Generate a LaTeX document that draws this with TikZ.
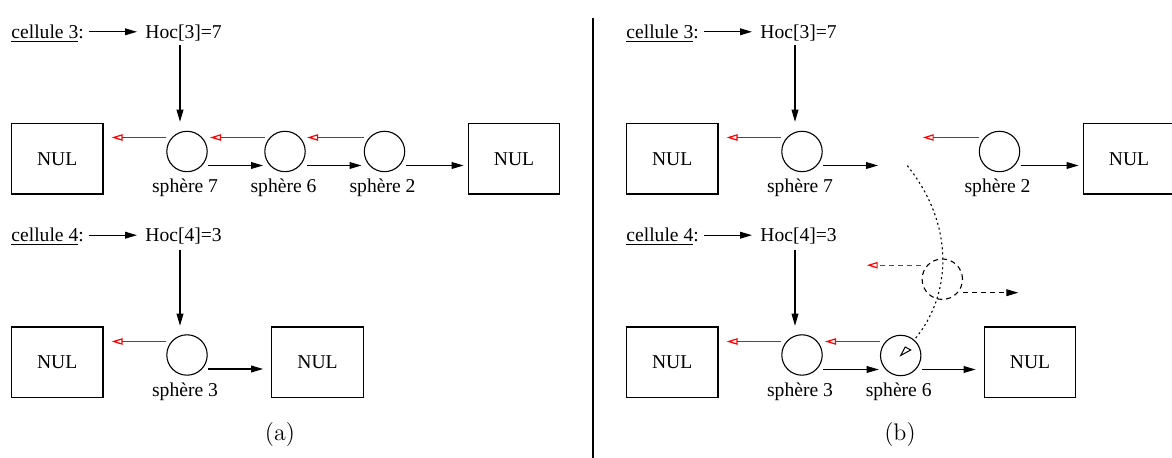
\documentclass[tikz,border=0pt]{standalone}
\usepackage{fontspec}
\newfontfamily\tms{Liberation Serif}
\usetikzlibrary{arrows.meta,calc}
\begin{document}
\begin{tikzpicture}[x=0.5pt,y=-0.5pt,
 lbl/.style={font=\tms\fontsize{9.8}{11}\selectfont, inner sep=0pt},
 nul/.style={draw, line width=0.6pt, minimum width=45.8pt, minimum height=35.3pt, inner sep=0pt, font=\tms\fontsize{9.8}{11}\selectfont},
 sph/.style={draw, circle, line width=0.55pt, minimum size=20.2pt, inner sep=0pt},
 ghost/.style={sph, dash pattern=on 2.5pt off 2pt},
 blk/.style={line width=0.55pt, -{Triangle[length=6pt,width=3.4pt]}},
 rarr/.style={red, line width=0.65pt, -{Triangle[open,length=5.5pt,width=3.2pt,line width=0.6pt]}},
 dsh/.style={dash pattern=on 2.5pt off 2pt},
 captxt/.style={font=\fontsize{12}{14}\selectfont, inner sep=0pt}
]
\useasboundingbox (0,0) rectangle (1172,458);
\clip (0,0) rectangle (1172,458);

% ---------------- panel (a) ----------------
\node[lbl, anchor=base west] (cel3L) at (11,38.3) {\underline{cellule 3}:};
\node[lbl, anchor=base west] (hoc3L) at (145,38.3) {Hoc[3]=7};
\node[lbl, anchor=base west] (cel4L) at (11,241.7) {\underline{cellule 4}:};
\node[lbl, anchor=base west] (hoc4L) at (145,241.7) {Hoc[4]=3};

\node[nul] (n1L) at (57.2,158.7) {NUL};
\node[nul] (n2L) at (514,158.7) {NUL};
\node[nul] (n3L) at (57.2,362.3) {NUL};
\node[nul] (n4L) at (317.5,362.3) {NUL};

\node[sph] (s7L) at (187,151.5) {};
\node[sph] (s6L) at (285,151.5) {};
\node[sph] (s2L) at (384.5,151.5) {};
\node[sph] (s3L) at (187,355) {};

\node[lbl, anchor=base] (l7L) at (185,193) {sphère 7};
\node[lbl, anchor=base] (l6L) at (283.5,193) {sphère 6};
\node[lbl, anchor=base] (l2L) at (382.5,193) {sphère 2};
\node[lbl, anchor=base] (l3L) at (185,396.7) {sphère 3};

\node[captxt] (capA) at (280,435) {(a)};

\draw[blk] ($(cel3L.base east)+(5,-6.5)$) -- ($(hoc3L.base west)+(-8,-6.5)$);
\draw[blk] ($(cel4L.base east)+(5,-6.5)$) -- ($(hoc4L.base west)+(-8,-6.5)$);
\draw[blk] ($(hoc3L.base west)+(35,7)$) -- ($(s7L.north)+(-7,-9)$);
\draw[blk] ($(hoc4L.base west)+(35,8)$) -- ($(s3L.north)+(-7,-8.5)$);

\draw[rarr] ($(s7L)+(-21,-14)$) -- ($(n1L.east |- s7L)+(8,-14)$);
\draw[rarr] ($(s6L)+(-20,-14)$) -- ($(s7L)+(23,-14)$);
\draw[rarr] ($(s2L)+(-21,-14)$) -- ($(s6L)+(22,-14)$);
\draw[rarr] ($(s3L)+(-21,-13.5)$) -- ($(n3L.east |- s3L)+(8,-13.5)$);

\draw[blk] ($(s7L)+(21,14)$) -- ($(s6L)+(-22,14)$);
\draw[blk] ($(s6L)+(22,14)$) -- ($(s2L)+(-23,14)$);
\draw[blk] ($(s2L)+(21,14)$) -- ($(n2L.west |- s2L)+(-4,14)$);
\draw[blk] ($(s3L)+(21,14)$) -- ($(n4L.west |- s3L)+(-8,14)$);

% divider
\draw[line width=1pt] (592.7,18) -- (592.7,458);

% ---------------- panel (b) ----------------
\node[lbl, anchor=base west] (cel3R) at (626,38.3) {\underline{cellule 3}:};
\node[lbl, anchor=base west] (hoc3R) at (760,38.3) {Hoc[3]=7};
\node[lbl, anchor=base west] (cel4R) at (626,241.7) {\underline{cellule 4}:};
\node[lbl, anchor=base west] (hoc4R) at (760,241.7) {Hoc[4]=3};

\node[nul] (n1R) at (672.2,158.7) {NUL};
\node[nul] (n2R) at (1129,158.7) {NUL};
\node[nul] (n3R) at (672.2,362.3) {NUL};
\node[nul] (n4R) at (1030,362.3) {NUL};

\node[sph] (s7R) at (802,151.5) {};
\node[sph] (s2R) at (999.5,151.5) {};
\node[sph] (s3R) at (802,355) {};
\node[sph] (s6R) at (900.7,355.5) {};
\node[ghost] (gR) at (942.3,279.2) {};

\node[lbl, anchor=base] (l7R) at (800,193) {sphère 7};
\node[lbl, anchor=base] (l2R) at (997.5,193) {sphère 2};
\node[lbl, anchor=base] (l3R) at (800,396.7) {sphère 3};
\node[lbl, anchor=base] (l6R) at (898.7,396.7) {sphère 6};

\node[captxt] (capB) at (900,435) {(b)};

\coordinate (d1) at (878,165.5);
\coordinate (d2) at (922.7,137.5);
\coordinate (d3) at (866.7,265.2);
\coordinate (d4) at (1018.3,292.7);
\coordinate (c1) at (907.3,165.7);

\draw[blk] ($(cel3R.base east)+(5,-6.5)$) -- ($(hoc3R.base west)+(-8,-6.5)$);
\draw[blk] ($(cel4R.base east)+(5,-6.5)$) -- ($(hoc4R.base west)+(-8,-6.5)$);
\draw[blk] ($(hoc3R.base west)+(35,7)$) -- ($(s7R.north)+(-7,-9)$);
\draw[blk] ($(hoc4R.base west)+(35,8)$) -- ($(s3R.north)+(-7,-8.5)$);

\draw[rarr] ($(s7R)+(-21,-14)$) -- ($(n1R.east |- s7R)+(8,-14)$);
\draw[rarr] ($(s2R)+(-21,-14)$) -- (d2 |- 0,137.5);
\draw[rarr] ($(s3R)+(-21,-13.5)$) -- ($(n3R.east |- s3R)+(8,-13.5)$);
\draw[rarr] ($(s6R)+(-21,-14)$) -- ($(s3R)+(23,-13.5)$);

\draw[blk] ($(s7R)+(21,14)$) -- (d1);
\draw[blk] ($(s2R)+(21,14)$) -- ($(n2R.west |- s2R)+(-4,14)$);
\draw[blk] ($(s3R)+(21,14.5)$) -- ($(s6R)+(-22,14)$);
\draw[blk] ($(s6R)+(21,14)$) -- ($(n4R.west |- s6R)+(-8,14)$);

\draw[rarr, dsh] ($(gR)+(-21,-14)$) -- (d3);
\draw[blk, dsh] ($(gR)+(21,13.5)$) -- (d4);

\draw[line width=0.55pt, dash pattern=on 1pt off 1.5pt] (c1) .. controls (955,225) and (952,295) .. (s6R.49);
\draw[line width=0.5pt, line join=miter] (s6R.center) -- ++(4.5,-8.5) -- ++(5.5,3) -- cycle;
\end{tikzpicture}
\end{document}
